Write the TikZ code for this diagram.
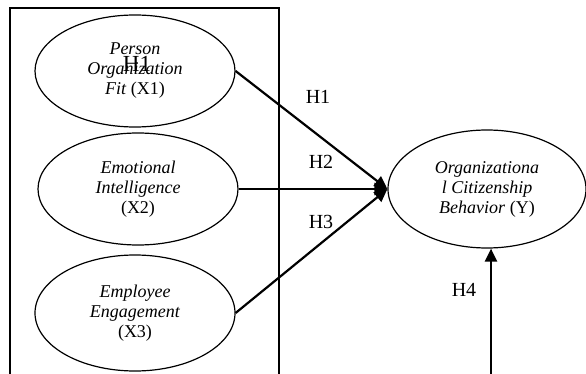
\documentclass[tikz,border=0pt]{standalone}
\usepackage{fontspec}
\setmainfont{Liberation Serif}
\usetikzlibrary{shapes.geometric,arrows.meta}

\tikzset{
    construct/.style={ellipse,draw,line width=1.2pt,minimum width=200pt,minimum height=112pt,
        align=center,inner sep=0pt,font=\fontsize{18}{20}\selectfont},
    path/.style={line width=2.2pt,-{Triangle[length=13pt,width=12pt]}},
    hyp/.style={font=\fontsize{20}{24}\selectfont}
}

\begin{document}
\begin{tikzpicture}[x=1pt,y=-1pt]
        \useasboundingbox (0,0) rectangle (586,374);
        \draw[line width=1.4pt] (10,374) -- (10,8) -- (279,8) -- (279,374);
        \node[construct] (x1) at (135,71) {\textit{Person}\\\textit{Organization}\\\textit{Fit} (X1)};
        \node[construct] (x2) at (138,189) {\textit{Emotional}\\\textit{Intelligence}\\(X2)};
        \node[construct,minimum height=116pt] (x3) at (135,313) {\textit{Employee}\\\textit{Engagement}\\(X3)};
        \node[construct,minimum width=198pt,minimum height=118pt] (y) at (487,189)
            {\textit{Organizationa}\\\textit{l Citizenship}\\\textit{Behavior} (Y)};
        \node[font=\fontsize{23}{23}\selectfont] (h1in) at (137,64) {H1};
        \coordinate (h4) at (491,374);
        \foreach \x in {1,2,3} {
            \draw[path] (x\x.east) -- (y.west);
        }
        \draw[path] (h4) -- (h4 |- y.south);
        \node[hyp] (h1) at (318,97) {H1};
        \node[hyp] (h2) at (321,162) {H2};
        \node[hyp] (h3) at (321,222) {H3};
        \node[hyp] (h4l) at (464,290) {H4};
    \end{tikzpicture}
\end{document}
